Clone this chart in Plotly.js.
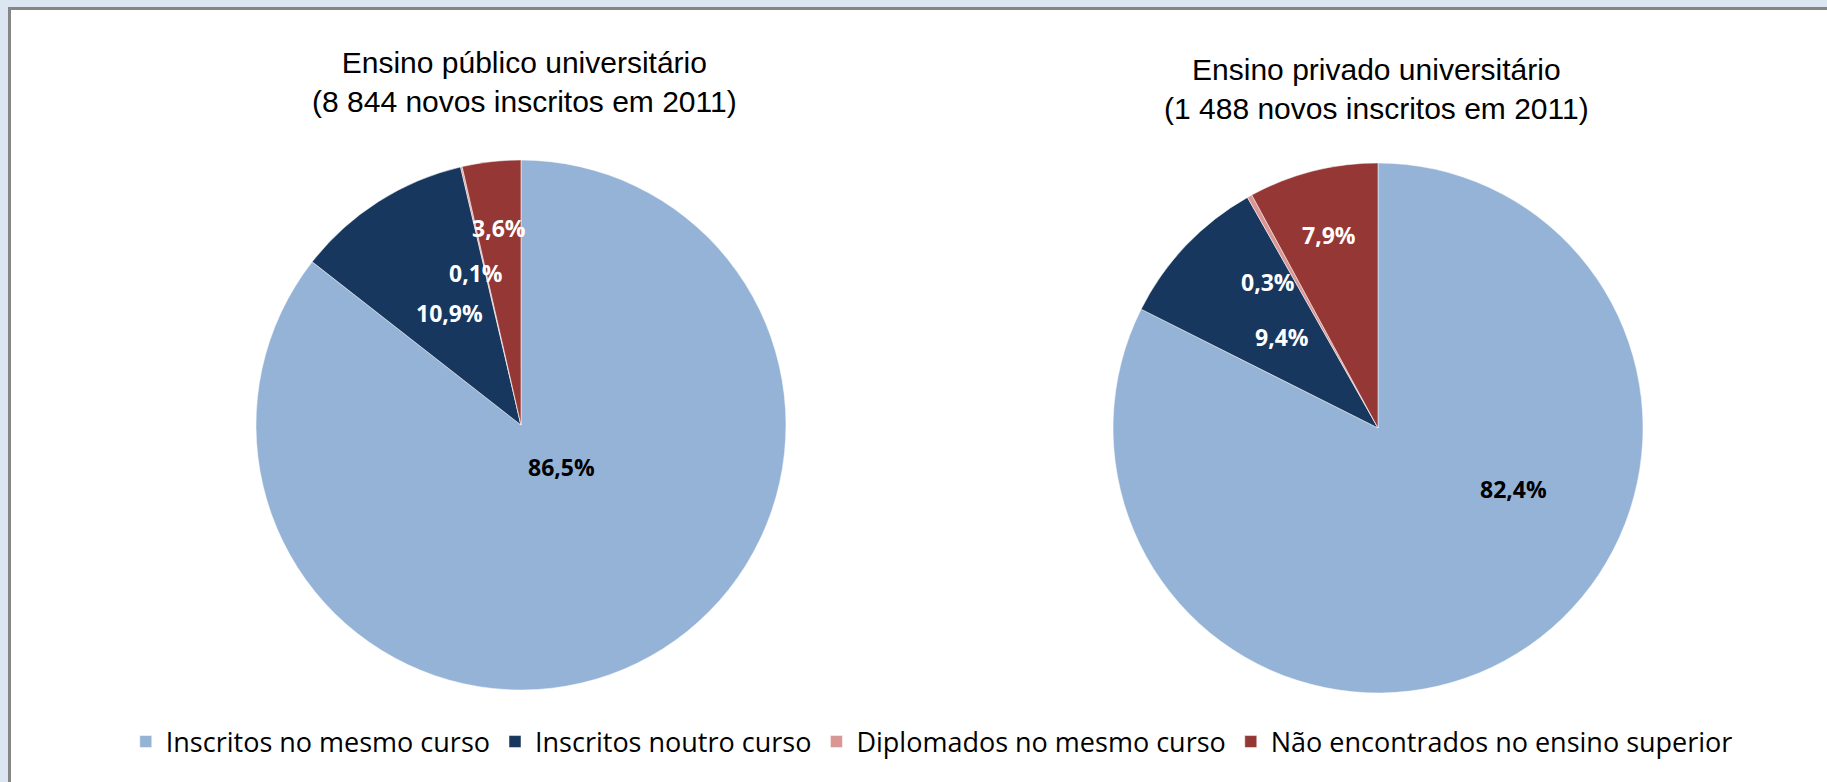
<!DOCTYPE html>
<html>
<head>
<meta charset="utf-8">
<script src="https://cdn.plot.ly/plotly-3.0.1.min.js"></script>
<style>
  html, body { margin: 0; padding: 0; background: #ffffff; }
  #chart { width: 1827px; height: 782px; }
</style>
</head>
<body>
<div id="chart"></div>
<script>
// categories and values
var categories = ["Inscritos no mesmo curso", "Inscritos noutro curso",
                  "Diplomados no mesmo curso", "Não encontrados no ensino superior"];
var publicValues = [86.5, 10.9, 0.1, 3.6];
var privateValues = [82.4, 9.4, 0.3, 7.9];
var publicTitle = "Ensino público universitário<br>(8 844 novos inscritos em 2011)";
var privateTitle = "Ensino privado universitário<br>(1 488 novos inscritos em 2011)";

var colors = ["#95b3d7", "#17375e", "#d99694", "#953735"];
var labelColors = ["#000000", "#ffffff", "#ffffff", "#ffffff"];

var W = 1827, H = 782;
var leftDomain = {x: [0.1401, 0.4302], y: [0.1176, 0.7954]};
var rightDomain = {x: [0.6092, 0.8993], y: [0.1138, 0.7916]};

// where each label sits: fraction of radius, and a nudge (degrees) off the slice middle
var publicLabelRadius = [0.22, 0.5, 0.6, 0.75];
var publicLabelShift = [-18, 0, -3.5, 0];
var privateLabelRadius = [0.56, 0.5, 0.69, 0.75];
var privateLabelShift = [-34, 0, -8, 0];

function fmt(v) {
  return v.toFixed(1).replace(".", ",") + "%";
}

function pieTrace(values, domain) {
  return {
    type: "pie",
    labels: categories,
    values: values,
    sort: false,
    direction: "clockwise",
    rotation: 0,
    domain: domain,
    marker: {colors: colors, line: {color: "#ffffff", width: 0.5}},
    textinfo: "none",
    hoverinfo: "label+percent"
  };
}

// labels placed on each slice from the data (slice middle angle)
function sliceLabels(values, domain, radii, shifts) {
  var total = values.reduce((a, b) => a + b, 0);
  var cx = (domain.x[0] + domain.x[1]) / 2 * W;
  var cy = (1 - (domain.y[0] + domain.y[1]) / 2) * H;
  var r = Math.min((domain.x[1] - domain.x[0]) * W, (domain.y[1] - domain.y[0]) * H) / 2;
  var cum = 0;
  var out = [];
  values.forEach(function(v, i) {
    var mid = (cum + v / 2) / total * 360 + shifts[i];
    cum += v;
    var a = mid * Math.PI / 180;
    var px = cx + radii[i] * r * Math.sin(a);
    var py = cy - radii[i] * r * Math.cos(a);
    out.push({
      x: px / W, y: 1 - py / H, xref: "paper", yref: "paper",
      xanchor: "center", yanchor: "middle",
      text: fmt(v), showarrow: false,
      font: {family: "Open Sans, sans-serif", size: 23, color: labelColors[i], weight: "bold"}
    });
  });
  return out;
}

var data = [pieTrace(publicValues, leftDomain), pieTrace(privateValues, rightDomain)];

var titleFont = {family: "Liberation Sans Narrow, Liberation Sans, sans-serif", size: 30, color: "#000000"};

var annotations = [
  {x: 524 / W, y: 1 - 82 / H, xref: "paper", yref: "paper", text: publicTitle,
   showarrow: false, font: titleFont, xanchor: "center", yanchor: "middle"},
  {x: 1376 / W, y: 1 - 89 / H, xref: "paper", yref: "paper", text: privateTitle,
   showarrow: false, font: titleFont, xanchor: "center", yanchor: "middle"}
].concat(sliceLabels(publicValues, leftDomain, publicLabelRadius, publicLabelShift))
 .concat(sliceLabels(privateValues, rightDomain, privateLabelRadius, privateLabelShift));

// frame: light blue band on top/left with a grey border line
var shapes = [
  {type: "rect", xref: "paper", yref: "paper", x0: 0, x1: 1, y0: 1 - 7 / H, y1: 1,
   fillcolor: "#dce6f2", line: {width: 0}},
  {type: "rect", xref: "paper", yref: "paper", x0: 0, x1: 8 / W, y0: 0, y1: 1,
   fillcolor: "#dce6f2", line: {width: 0}},
  {type: "line", xref: "paper", yref: "paper", x0: 9 / W, x1: 1, y0: 1 - 8.5 / H, y1: 1 - 8.5 / H,
   line: {color: "#868686", width: 3}},
  {type: "line", xref: "paper", yref: "paper", x0: 9.5 / W, x1: 9.5 / W, y0: 0, y1: 1 - 7 / H,
   line: {color: "#868686", width: 3}}
];

var layout = {
  width: W,
  height: H,
  margin: {l: 0, r: 0, t: 0, b: 0},
  paper_bgcolor: "#ffffff",
  showlegend: true,
  legend: {
    orientation: "h",
    x: 0.51, xanchor: "center",
    y: 1 - 742 / H, yanchor: "middle",
    traceorder: "normal",
    font: {family: "Open Sans, sans-serif", size: 27, color: "#000000"}
  },
  annotations: annotations,
  shapes: shapes
};

Plotly.newPlot("chart", data, layout, {displayModeBar: false});
</script>
</body>
</html>
